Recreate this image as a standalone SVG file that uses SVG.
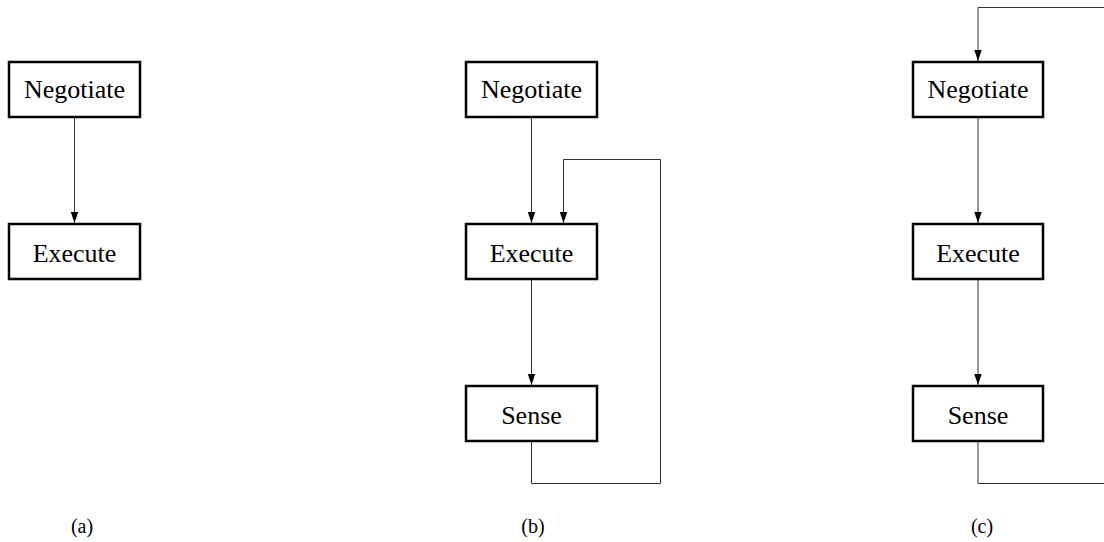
<svg xmlns="http://www.w3.org/2000/svg" width="1104" height="542" viewBox="0 0 1104 542">
<style>
.box{fill:#fff;stroke:#000;stroke-width:2.5}
.lbl{font-family:"Liberation Serif","Times New Roman",serif;font-size:26px;fill:#000;text-anchor:middle}
.cap{font-family:"Liberation Serif","Times New Roman",serif;font-size:20px;fill:#000;text-anchor:middle}
.edge{fill:none;stroke:#333;stroke-width:1}
</style>
<defs>
<marker id="arr" viewBox="0 0 10 10" refX="10" refY="5" markerWidth="11" markerHeight="11" markerUnits="userSpaceOnUse" orient="auto">
<path d="M0,1.6 L10,5 L0,8.4 Z" fill="#000"/>
</marker>
</defs>
<g id="connectors">
<path class="edge" d="M74.5,117 V223" marker-end="url(#arr)"/>
<path class="edge" d="M531.5,117 V223" marker-end="url(#arr)"/>
<path class="edge" d="M531.5,280 V385" marker-end="url(#arr)"/>
<path class="edge" d="M531.5,441 V483.5 H660.5 V159.5 H563.5 V223" marker-end="url(#arr)"/>
<path class="edge" d="M978,117 V223" marker-end="url(#arr)"/>
<path class="edge" d="M978,280 V385" marker-end="url(#arr)"/>
<path class="edge" d="M978,441 V483.5 H1110 V7.5 H978 V61" marker-end="url(#arr)"/>
</g>
<g id="a-negotiate"><rect class="box" x="9" y="62" width="131" height="55"/><text class="lbl" x="74.5" y="98">Negotiate</text></g>
<g id="a-execute"><rect class="box" x="9" y="224" width="131" height="55"/><text class="lbl" x="74.5" y="262">Execute</text></g>
<g id="b-negotiate"><rect class="box" x="466" y="62" width="131" height="55"/><text class="lbl" x="531.5" y="98">Negotiate</text></g>
<g id="b-execute"><rect class="box" x="466" y="224" width="131" height="55"/><text class="lbl" x="531.5" y="262">Execute</text></g>
<g id="b-sense"><rect class="box" x="466" y="386" width="131" height="55"/><text class="lbl" x="531.5" y="424">Sense</text></g>
<g id="c-negotiate"><rect class="box" x="913" y="62" width="130" height="55"/><text class="lbl" x="978" y="98">Negotiate</text></g>
<g id="c-execute"><rect class="box" x="913" y="224" width="130" height="55"/><text class="lbl" x="978" y="262">Execute</text></g>
<g id="c-sense"><rect class="box" x="913" y="386" width="130" height="55"/><text class="lbl" x="978" y="424">Sense</text></g>
<g id="captions">
<text class="cap" x="82" y="533">(a)</text>
<text class="cap" x="533" y="533">(b)</text>
<text class="cap" x="982" y="533">(c)</text>
</g>
</svg>
